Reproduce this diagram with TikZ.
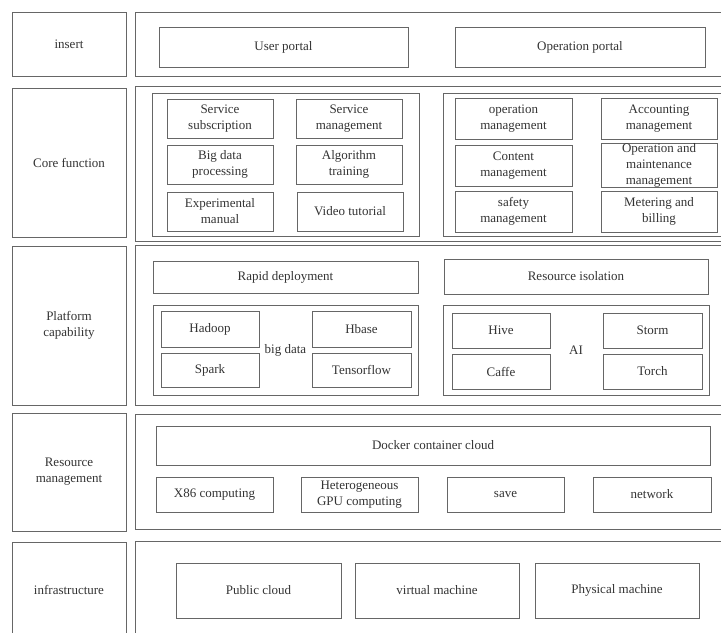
\documentclass[tikz,border=0pt]{standalone}
\usepackage{fontspec}
\setmainfont{Liberation Serif}
\usetikzlibrary{positioning}
\tikzset{blk/.style={draw=black!60, line width=.7pt, inner sep=0pt, align=center, text=black!80, font=\fontsize{9.75}{12}\selectfont},
	lbl/.style={inner sep=0pt, text=black!80, font=\fontsize{9.75}{12}\selectfont}}

\begin{document}
\begin{tikzpicture}[x=.75pt, y=-.75pt]
\newcommand{\blk}[6]{\node[blk, minimum width={(#4-#2)*.75pt}, minimum height={(#5-#3)*.75pt}] (#1) at ({(#2+#4)/2},{(#3+#5)/2}) {#6};}
	\useasboundingbox (0,0) rectangle (721,632);
	%Ebenen links
	\foreach \n/\t/\a/\b in {ins/insert/12/76, core/{Core function}/88/237, plat/{Platform\\capability}/246/405, res/{Resource\\management}/413/531, inf/infrastructure/542/638} {
		\blk{l\n}{12}{\a}{126}{\b}{\t}
	}
	%Rahmen rechts
	\foreach \n/\a/\b in {ins/12/76, core/86/241, plat/245/405, res/414/529, inf/541/660} {
		\blk{r\n}{135}{\a}{740}{\b}{}
	}
	%insert
	\blk{user}{159}{27}{408}{67}{User portal}
	\blk{oper}{455}{27}{705}{67}{Operation portal}
	%Core function
	\blk{gA}{152}{93}{419}{236}{}
	\blk{gB}{443}{93}{735}{236}{}
	\blk{subs}{167}{99}{273}{138}{Service\\subscription}
	\blk{smgt}{296}{99}{402}{138}{Service\\management}
	\blk{bdp}{167}{145}{273}{184}{Big data\\processing}
	\blk{algo}{296}{145}{402}{184}{Algorithm\\training}
	\blk{expm}{167}{192}{273}{231}{Experimental\\manual}
	\blk{video}{297}{192}{403}{231}{Video tutorial}
	\blk{opmg}{455}{98}{572}{139}{operation\\management}
	\blk{acct}{601}{98}{717}{139}{Accounting\\management}
	\blk{cont}{455}{145}{572}{186}{Content\\management}
	\blk{maint}{601}{145}{717}{186}{Operation and\\maintenance\\management}
	\blk{safe}{455}{191}{572}{232}{safety\\management}
	\blk{meter}{601}{191}{717}{232}{Metering and\\billing}
	%Platform capability
	\blk{rapid}{153}{261}{418}{293}{Rapid deployment}
	\blk{isol}{444}{259}{708}{294}{Resource isolation}
	\blk{gBig}{153}{305}{418}{395}{}
	\blk{gAI}{443}{305}{709}{395}{}
	\blk{hadoop}{161}{311}{259}{347}{Hadoop}
	\blk{spark}{161}{353}{259}{387}{Spark}
	\blk{hbase}{312}{311}{411}{347}{Hbase}
	\blk{tensor}{312}{353}{411}{387}{Tensorflow}
	\blk{hive}{452}{313}{550}{348}{Hive}
	\blk{caffe}{452}{354}{550}{389}{Caffe}
	\blk{storm}{603}{313}{702}{348}{Storm}
	\blk{torch}{603}{354}{702}{389}{Torch}
	\node[lbl] (bigdata) at (285.5,350) {big data};
	\node[lbl] (ai) at (576,350) {AI};
	%Resource management
	\blk{docker}{156}{426}{710}{465}{Docker container cloud}
	\blk{xcomp}{156}{477}{273}{512}{X86 computing}
	\blk{gpu}{301}{477}{418}{512}{Heterogeneous\\GPU computing}
	\blk{save}{447}{477}{564}{512}{save}
	\blk{net}{593}{477}{711}{512}{network}
	%infrastructure
	\blk{pub}{176}{563}{341}{618}{Public cloud}
	\blk{vm}{355}{563}{519}{618}{virtual machine}
	\blk{phys}{535}{563}{699}{618}{Physical machine}
\end{tikzpicture}
\end{document}
